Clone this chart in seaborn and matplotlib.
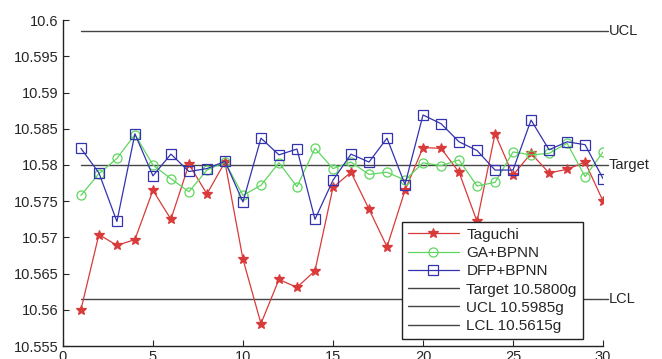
import pandas as pd
import matplotlib.pyplot as plt
import seaborn as sns

# Data
runs = list(range(1, 31))
taguchi = [10.5600, 10.5704, 10.5689, 10.5697, 10.5765, 10.5725, 10.5801, 10.5760, 10.5804, 10.5670,
           10.5581, 10.5642, 10.5631, 10.5654, 10.5769, 10.5790, 10.5739, 10.5687, 10.5765, 10.5824,
           10.5823, 10.5790, 10.5722, 10.5843, 10.5786, 10.5816, 10.5789, 10.5794, 10.5804, 10.5750]
ga_bpnn = [10.5758, 10.5788, 10.5809, 10.5842, 10.5800, 10.5781, 10.5763, 10.5793, 10.5804, 10.5758,
           10.5772, 10.5803, 10.5770, 10.5823, 10.5795, 10.5804, 10.5787, 10.5790, 10.5779, 10.5803,
           10.5799, 10.5807, 10.5771, 10.5776, 10.5818, 10.5814, 10.5816, 10.5830, 10.5784, 10.5818]
dfp_bpnn = [10.5823, 10.5789, 10.5722, 10.5843, 10.5785, 10.5815, 10.5791, 10.5795, 10.5805, 10.5749,
            10.5837, 10.5814, 10.5822, 10.5725, 10.5779, 10.5815, 10.5804, 10.5837, 10.5773, 10.5869,
            10.5857, 10.5832, 10.5820, 10.5793, 10.5793, 10.5862, 10.5821, 10.5832, 10.5828, 10.5781]
target, ucl, lcl = 10.5800, 10.5985, 10.5615
series_names = ["Taguchi", "GA+BPNN", "DFP+BPNN"]

df = pd.DataFrame({
    "Run": runs * 3,
    "Weight": taguchi + ga_bpnn + dfp_bpnn,
    "Method": [n for n in series_names for _ in runs],
})

sns.set_style("white")
plt.rcParams["font.family"] = ["Liberation Sans", "DejaVu Sans"]

fig = plt.figure(figsize=(6.62, 3.59), dpi=100)
ax = fig.add_axes([0.095, 0.036, 0.816, 0.908])

palette = {"Taguchi": "#d93a3a", "GA+BPNN": "#5fd65f", "DFP+BPNN": "#3333b0"}
markers = {"Taguchi": "*", "GA+BPNN": "o", "DFP+BPNN": "s"}
msizes = {"Taguchi": 7, "GA+BPNN": 6.5, "DFP+BPNN": 7}
for name in series_names:
    sub = df[df["Method"] == name]
    sns.lineplot(data=sub, x="Run", y="Weight", ax=ax, color=palette[name], marker=markers[name],
                 markersize=msizes[name], linewidth=0.9,
                 markerfacecolor="none" if name != "Taguchi" else palette[name],
                 markeredgecolor=palette[name], markeredgewidth=0.9, label=name)

# control lines
line_color = "#444444"
for val, lab, full in [(target, "Target", "Target 10.5800g"), (ucl, "UCL", "UCL 10.5985g"),
                       (lcl, "LCL", "LCL 10.5615g")]:
    ax.plot([runs[0], runs[-1]], [val, val], color=line_color, linewidth=1.0, label=full, zorder=1)
    ax.plot([30, 30.3], [val, val], color=line_color, linewidth=1.0, clip_on=False)
    ax.text(30.3, val, lab, va="center", ha="left", fontsize=10.5, clip_on=False)

ax.set_xlim(0, 30)
ax.set_ylim(10.555, 10.6)
ax.set_xticks(range(0, 31, 5))
ax.set_yticks([10.555, 10.56, 10.565, 10.57, 10.575, 10.58, 10.585, 10.59, 10.595, 10.6])
ax.set_yticklabels(["10.555", "10.56", "10.565", "10.57", "10.575", "10.58", "10.585", "10.59",
                    "10.595", "10.6"])
ax.tick_params(direction="in", length=4, labelsize=10.5, left=True, bottom=True, pad=3)
ax.set_xlabel("")
ax.set_ylabel("")
sns.despine(ax=ax)
for sp in ["left", "bottom"]:
    ax.spines[sp].set_color("#222222")
    ax.spines[sp].set_linewidth(1.0)

leg = ax.legend(loc="lower left", bbox_to_anchor=(0.628, 0.021), borderaxespad=0, fontsize=11,
                frameon=True, fancybox=False, edgecolor="#222222", framealpha=1, handlelength=3.3,
                labelspacing=0.28, borderpad=0.4, handletextpad=0.5)
leg.get_frame().set_linewidth(1.0)

plt.savefig("out.png", dpi=100)
plt.close()
